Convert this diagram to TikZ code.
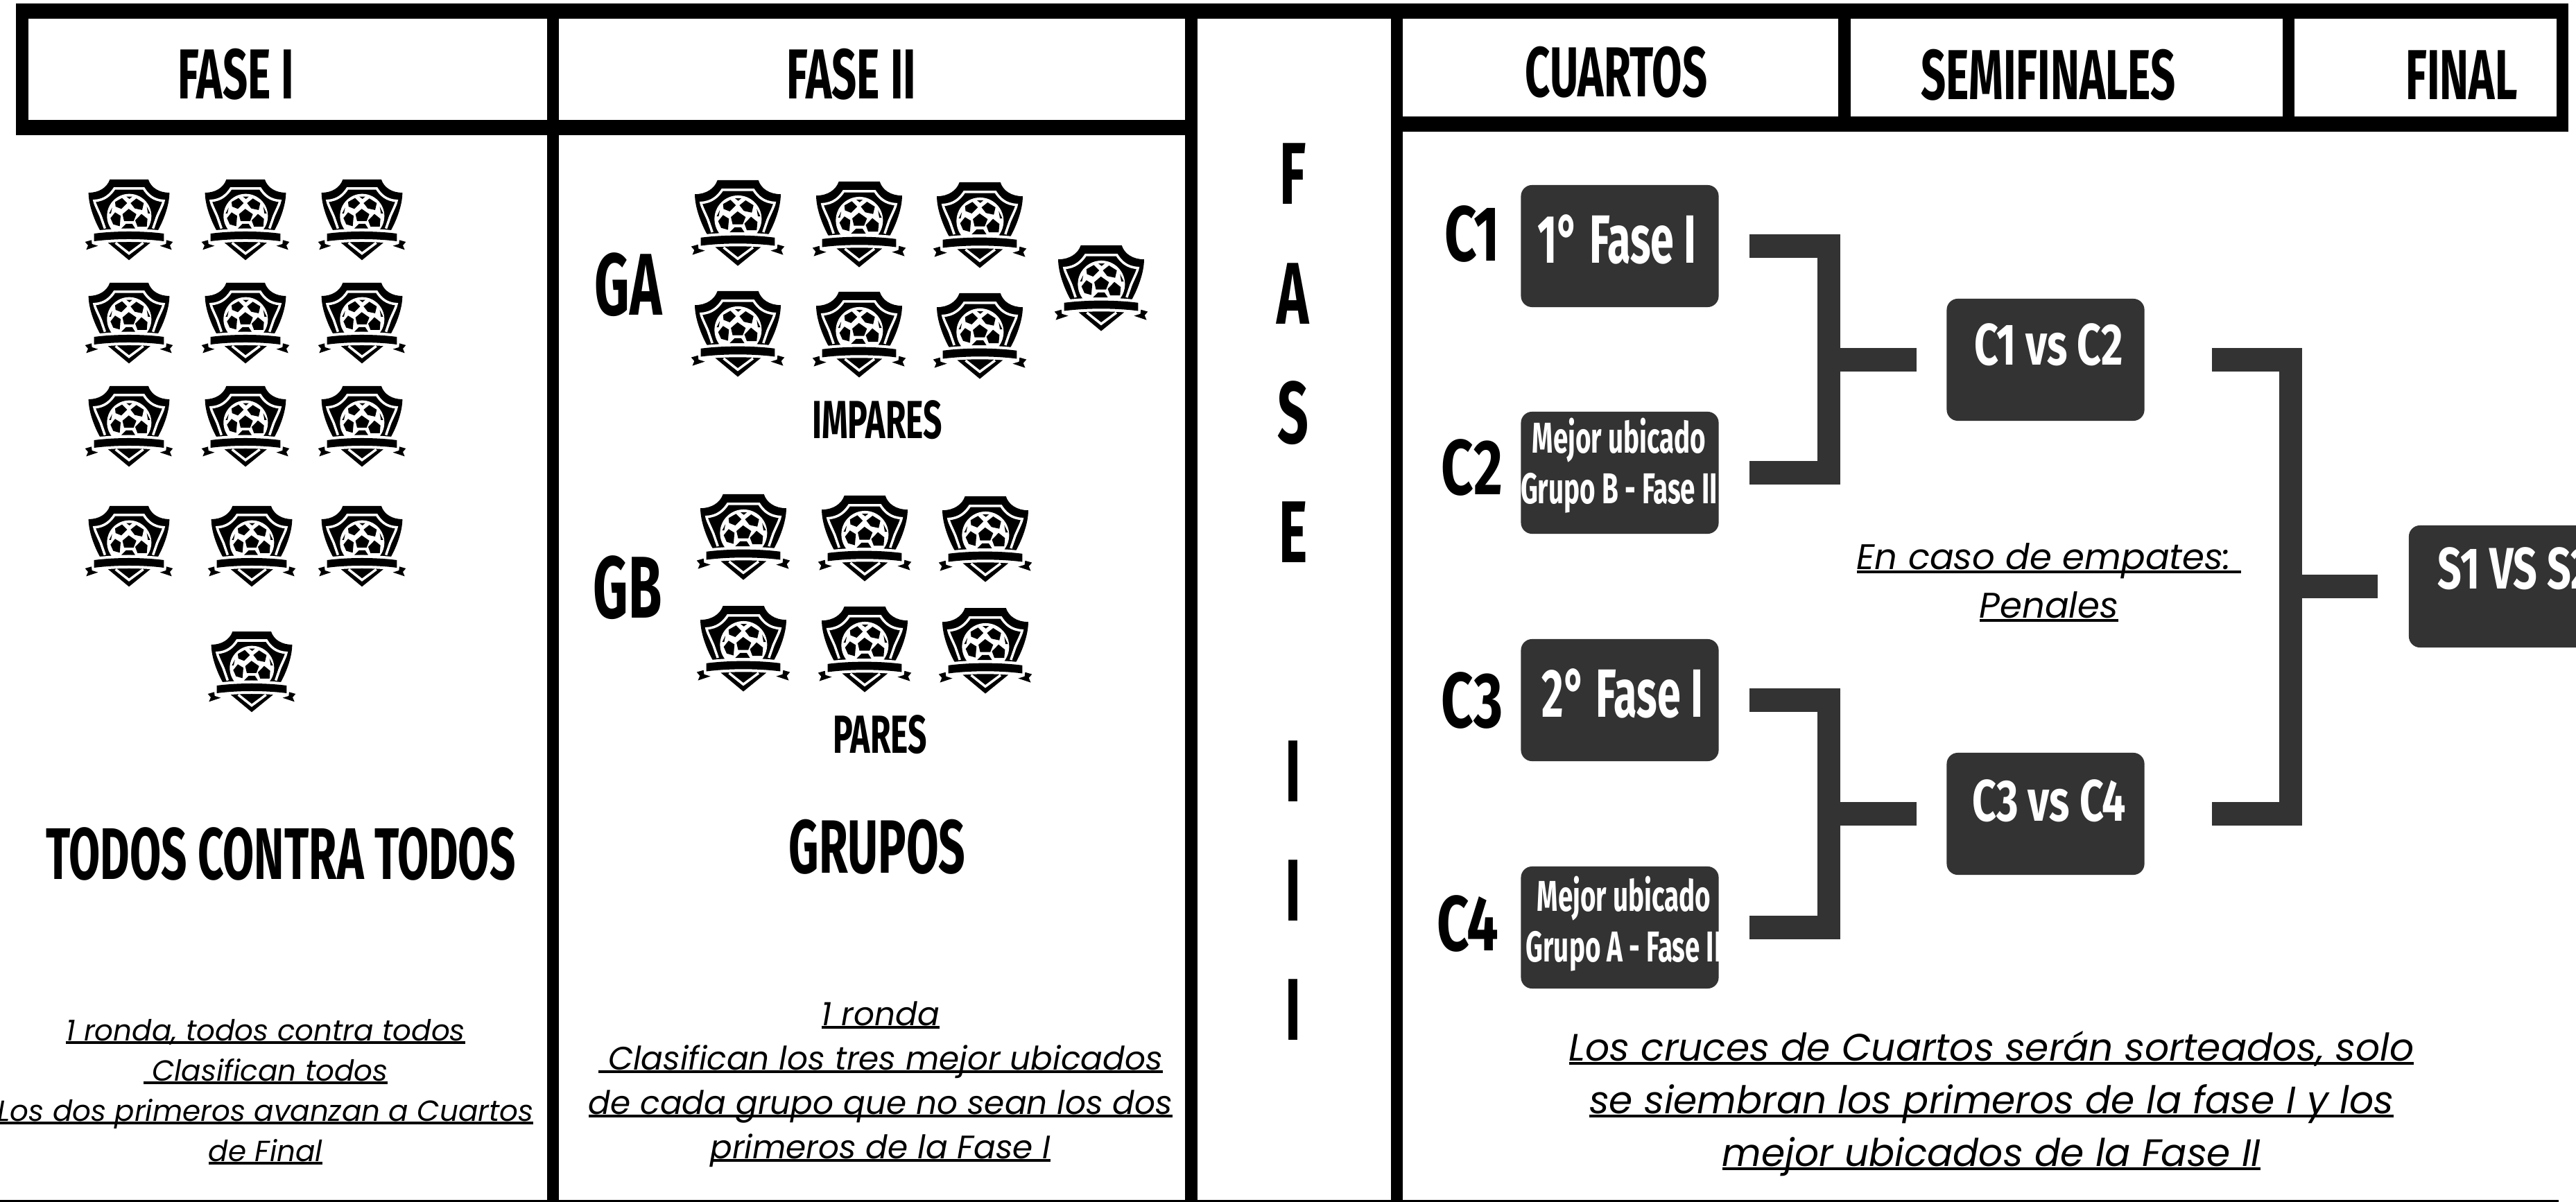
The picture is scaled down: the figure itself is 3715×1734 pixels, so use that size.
\documentclass[tikz,border=0pt]{standalone}
\usepackage{fontspec}
\setmainfont{Poppins}
\newfontfamily\headfont[FakeStretch=.62]{Fira Sans}
\newfontfamily\labelfont[FakeStretch=.72]{Fira Sans}
\newcommand{\ulin}[1]{\setbox0=\hbox{#1}\rlap{\rule[-.11em]{\wd0}{1.2pt}}\box0}
\definecolor{boxgray}{HTML}{333333}
\tikzset{
crest/.pic={
    \fill(-83,0)--(84,0)..controls(95,35)and(130,57)..(175,57)..controls(175,110)and(150,175)..(127,217)--(92,274)--(0,349)--(-90,274)--(-127,217)..controls(-150,175)and(-175,110)..(-175,57)..controls(-130,57)and(-95,35)..(-83,0)--cycle;
    \draw[white,line width=.035cm](-104,212)--(-122,160)..controls(-135,130)and(-148,105)..(-150,92)..controls(-105,90)and(-80,65)..(-63,39)--(64,39)..controls(80,65)and(105,90)..(150,92)..controls(148,105)and(135,130)..(122,160)--(104,212);
    \draw[white,line width=.035cm](-58,274)--(0,320)--(62,274);
    \fill[white](1,158)circle(96);
    \fill(-1,127)--(32,150)--(20,180)--(-21,180)--(-28,150)--cycle
        (-30,80)--(-8,102)--(-33,127)--(-58,117)--(-60,97)--cycle
        (32,82)--(64,102)--(57,132)--(25,125)--(7,102)--cycle
        (-60,142)--(-36,157)--(-40,202)--(-68,194)--(-80,167)--cycle
        (54,149)--(80,170)--(77,204)--(37,204)--(27,177)--cycle
        (-33,212)--(-13,192)--(14,192)--(27,212)--cycle
        (-11,74)--(14,74)--(2,84)--cycle
        (-73,122)--(-78,147)--(-86,147)--cycle
        (77,117)--(92,147)--(82,147)--cycle;
    \draw[white,line width=.08cm](-151,234)..controls(-60,222)and(60,222)..(151,234)--(151,267)..controls(60,255)and(-60,255)..(-151,267)--cycle;
    \fill(-151,234)..controls(-60,222)and(60,222)..(151,234)--(151,267)..controls(60,255)and(-60,255)..(-151,267)--cycle;
    \foreach \s in {-1,1}
    {\fill[xscale=\s](134,287)--(160,279)--(162,262)--(190,270)--(177,285)--(185,304)--cycle;}
},
headtext/.style={font=\headfont\bfseries\fontsize{#1}{#1}\selectfont,inner sep=0pt},
labeltext/.style={font=\labelfont\bfseries\fontsize{#1}{#1}\selectfont,inner sep=0pt},
matchbox/.style={fill=boxgray,rounded corners=.16cm,minimum width=2.85cm,minimum height=1.76cm,inner sep=0pt},
boxtext/.style={headtext=#1,text=white,align=center},
vstext/.style={labeltext=#1,text=white},
notetext/.style 2 args={font=\itshape\fontsize{#1}{#2}\selectfont,align=center,inner sep=0pt},
bracket/.style={boxgray,line width=.33cm}
}
\begin{document}
\begin{tikzpicture}[x=.01cm,y=-.01cm]
\path[use as bounding box,clip](0,0)rectangle(3715,1734);
\fill[white](0,0)rectangle(3715,1734);
\fill(23,5)rectangle(3704,27);
\fill(23,5)rectangle(41,195);
\fill(23,173)rectangle(1709,195);
\fill(2006,168)rectangle(3704,190);
\fill(0,1731)rectangle(3690,1734);
\foreach \a/\b/\c in {789/806/1734,1709/1727/1734,2006/2023/1734,2651/2669/190,3292/3309/190,3687/3704/190}
{
    \fill(\a,5)rectangle(\b,\c);
}
\node[headtext=29](fase1)at(340,107){FASE I};
\node[headtext=29](fase2)at(1228,107){FASE II};
\node[headtext=29](cuartos)at(2331,104){CUARTOS};
\node[headtext=29](semis)at(2954,108){SEMIFINALES};
\node[headtext=29](final)at(3550,108){FINAL};
\foreach \x in {186,354,522}
{
    \foreach \y in {259,408,557}
    {
        \pic[scale=.3333]at(\x,\y){crest};
    }
}
\foreach \x/\y in {186/730,363/730,522/730,363/911}
{
    \pic[scale=.3333]at(\x,\y){crest};
}
\foreach \x/\y in {1064/260,1239/262,1413/263,1064/420,1239/421,1413/423,1588/354,1072/713,1247/715,1421/716,1072/874,1247/875,1421/877}
{
    \pic[scale=.354]at(\x,\y){crest};
}
\node[headtext=36](ga)at(906,411){GA};
\node[headtext=36](gb)at(905,848){GB};
\node[headtext=22](impares)at(1265,606){IMPARES};
\node[headtext=22](pares)at(1269,1060){PARES};
\node[headtext=31](grupos)at(1265,1222){GRUPOS};
\node[headtext=30](todos)at(405,1232){TODOS CONTRA TODOS};
\node[notetext={11.95}{16.5}](nota1)at(383,1575){\ulin{1 ronda, todos contra todos}\\\ulin{~Clasifican todos}\\\ulin{Los dos primeros avanzan a Cuartos}\\\ulin{de Final}};
\node[notetext={13.35}{18.2}](nota2)at(1270,1564){\ulin{1 ronda}\\\ulin{~Clasifican los tres mejor ubicados}\\\ulin{de cada grupo que no sean los dos}\\\ulin{primeros de la Fase I}};
\node[notetext={15.65}{21.6}](nota3)at(2872,1592){\ulin{Los cruces de Cuartos serán sorteados, solo}\\\ulin{se siembran los primeros de la fase I y los}\\\ulin{mejor ubicados de la Fase II}};
\node[notetext={14.6}{19.9}](empates)at(2955,840){\ulin{En caso de empates:~}\\\ulin{Penales}};
\node[font=\headfont\bfseries\fontsize{36}{49}\selectfont,align=center,inner sep=0pt](fase3)at(1865,854){F\\A\\S\\E\\~\\I\\I\\I};
\node[matchbox](c1)at(2336,355){};
\node[matchbox](c2)at(2336,682){};
\node[matchbox](c3)at(2336,1010){};
\node[matchbox](c4)at(2336,1338){};
\node[matchbox](m1)at(2950,519){};
\node[matchbox](m2)at(2950,1174){};
\node[matchbox,minimum width=3.4cm](s1)at(3644,846){};
\node[labeltext=32](lc1)at(2123,338){C1};
\node[labeltext=32](lc2)at(2123,675){C2};
\node[labeltext=32](lc3)at(2123,1011){C3};
\node[labeltext=32](lc4)at(2117,1332){C4};
\node[boxtext=28](t1)at(2332,345){1° Fase I};
\node[boxtext=28](t3)at(2340,1000){2° Fase I};
\node[boxtext=17.7](t2)at(2335,672){Mejor ubicado\\[.11cm]Grupo B - Fase II};
\node[boxtext=17.7](t4)at(2342,1333){Mejor ubicado\\[.11cm]Grupo A - Fase II};
\node[vstext=24](tm1)at(2955,497){C1 vs C2};
\node[vstext=24](tm2)at(2955,1155){C3 vs C4};
\node[vstext=24,anchor=west](ts1)at(3515,820){S1 VS S2};
\coordinate(j1)at(2637,519);
\coordinate(j2)at(2637,1174);
\coordinate(j3)at(3303,846);
\draw[bracket,shorten <=.44cm,shorten >=.44cm](c1.east)-|(j1)|-(c2.east);
\draw[bracket,shorten >=.43cm](j1)--(m1.west);
\draw[bracket,shorten <=.44cm,shorten >=.44cm](c3.east)-|(j2)|-(c4.east);
\draw[bracket,shorten >=.43cm](j2)--(m2.west);
\draw[bracket,shorten <=.97cm,shorten >=.97cm](m1.east)-|(j3)|-(m2.east);
\draw[bracket,shorten >=.44cm](j3)--(s1.west);
\end{tikzpicture}
\end{document}
